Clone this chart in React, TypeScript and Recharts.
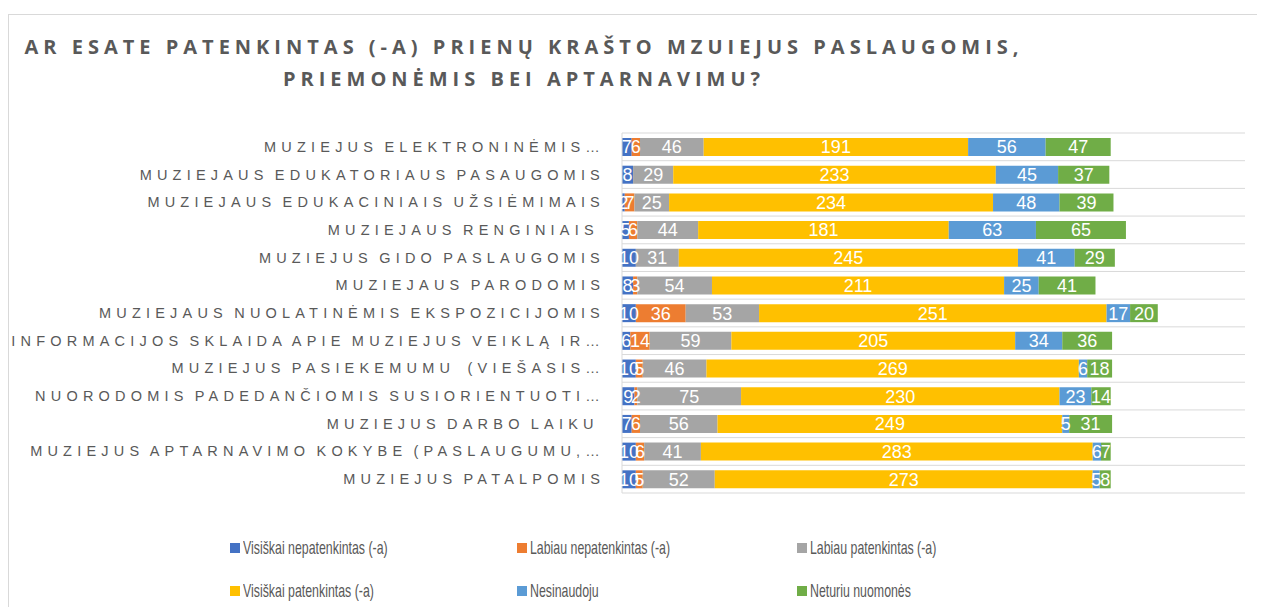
import React from "react";
import {
  BarChart,
  Bar,
  XAxis,
  YAxis,
  CartesianGrid,
  LabelList,
} from "recharts";

const categories = [
  "MUZIEJUS ELEKTRONINĖMIS…",
  "MUZIEJAUS EDUKATORIAUS PASAUGOMIS",
  "MUZIEJAUS EDUKACINIAIS UŽSIĖMIMAIS",
  "MUZIEJAUS RENGINIAIS ",
  "MUZIEJUS GIDO PASLAUGOMIS",
  "MUZIEJAUS PARODOMIS",
  "MUZIEJAUS NUOLATINĖMIS EKSPOZICIJOMIS",
  "INFORMACIJOS SKLAIDA APIE MUZIEJUS VEIKLĄ IR…",
  "MUZIEJUS PASIEKEMUMU  (VIEŠASIS…",
  "NUORODOMIS PADEDANČIOMIS SUSIORIENTUOTI…",
  "MUZIEJUS DARBO LAIKU ",
  "MUZIEJUS APTARNAVIMO KOKYBE (PASLAUGUMU,…",
  "MUZIEJUS PATALPOMIS",
];

const visiskaiNepatenkintas = [7, 8, 2, 5, 10, 8, 10, 6, 10, 9, 7, 10, 10];
const labiauNepatenkintas = [6, 0, 7, 6, 0, 3, 36, 14, 5, 2, 6, 6, 5];
const labiauPatenkintas = [46, 29, 25, 44, 31, 54, 53, 59, 46, 75, 56, 41, 52];
const visiskaiPatenkintas = [191, 233, 234, 181, 245, 211, 251, 205, 269, 230, 249, 283, 273];
const nesinaudoju = [56, 45, 48, 63, 41, 25, 17, 34, 6, 23, 5, 6, 5];
const neturiuNuomones = [47, 37, 39, 65, 29, 41, 20, 36, 18, 14, 31, 7, 8];

const series = [
  { key: "vn", name: "Visiškai nepatenkintas (-a)", color: "#4472C4", values: visiskaiNepatenkintas },
  { key: "ln", name: "Labiau nepatenkintas (-a)", color: "#ED7D31", values: labiauNepatenkintas },
  { key: "lp", name: "Labiau patenkintas (-a)", color: "#A5A5A5", values: labiauPatenkintas },
  { key: "vp", name: "Visiškai patenkintas (-a)", color: "#FFC000", values: visiskaiPatenkintas },
  { key: "ne", name: "Nesinaudoju", color: "#5B9BD5", values: nesinaudoju },
  { key: "nn", name: "Neturiu nuomonės", color: "#70AD47", values: neturiuNuomones },
];

const data = categories.map((name, i) => {
  const row: Record<string, any> = { name };
  series.forEach((s) => (row[s.key] = s.values[i]));
  return row;
});

const sans = "'Liberation Sans', sans-serif";

const CategoryTick = (props: any) => {
  const { x, y, payload } = props;
  return (
    <text
      x={x - 9}
      y={y}
      dy={5}
      textAnchor="end"
      fill="#595959"
      fontSize={14.5}
      fontFamily={sans}
      style={{ letterSpacing: "5.2px", wordSpacing: "-3px", whiteSpace: "pre" }}
    >
      {payload.value}
    </text>
  );
};

const rowLines = ({ offset }: any) => {
  const out: number[] = [];
  for (let i = 0; i <= categories.length; i++) {
    out.push(offset.top + (i * offset.height) / categories.length);
  }
  return out;
};

const App = () => {
  return (
    <div
      style={{
        position: "relative",
        marginTop: 6,
        width: 1257,
        height: 593,
        boxSizing: "border-box",
        borderTop: "1px solid #d9d9d9",
        borderLeft: "1px solid #d9d9d9",
        background: "#fff",
      }}
    >
      <div
        style={{
          position: "absolute",
          left: 0,
          width: 1030,
          top: 16,
          textAlign: "center",
          color: "#595959",
          fontFamily: "'Open Sans', sans-serif",
          fontWeight: 700,
          fontSize: 20,
          letterSpacing: "5px",
          lineHeight: "32px",
          whiteSpace: "nowrap",
        }}
      >
        AR ESATE PATENKINTAS (-A) PRIENŲ KRAŠTO MZUIEJUS PASLAUGOMIS,
        <br />
        PRIEMONĖMIS BEI APTARNAVIMU?
      </div>
      <BarChart
        width={1256}
        height={592}
        data={data}
        layout="vertical"
        margin={{ top: 118, right: 20, left: 0, bottom: 114 }}
        barSize={18}
      >
        <CartesianGrid
          vertical={false}
          stroke="#d9d9d9"
          horizontalCoordinatesGenerator={rowLines}
        />
        <XAxis type="number" domain={[0, 450]} hide />
        <YAxis
          type="category"
          dataKey="name"
          width={613}
          axisLine={{ stroke: "#d9d9d9" }}
          tickLine={false}
          tick={<CategoryTick />}
          interval={0}
        />
        {series.map((s) => (
          <Bar
            key={s.key}
            dataKey={s.key}
            name={s.name}
            stackId="a"
            fill={s.color}
            isAnimationActive={false}
          >
            <LabelList
              dataKey={s.key}
              position="center"
              fill="#ffffff"
              fontSize={18}
              fontFamily={sans}
            />
          </Bar>
        ))}
      </BarChart>
      {series.map((s, i) => (
        <div
          key={s.key}
          style={{
            position: "absolute",
            left: [221, 508, 788][i % 3],
            top: i < 3 ? 522 : 565,
            display: "flex",
            alignItems: "center",
            fontFamily: sans,
            fontSize: 19,
            color: "#595959",
            whiteSpace: "nowrap",
          }}
        >
          <span
            style={{
              display: "inline-block",
              width: 10,
              height: 10,
              background: s.color,
              marginRight: 3,
            }}
          />
          <span
            style={{
              display: "inline-block",
              transform: "scaleX(0.65)",
              transformOrigin: "left center",
            }}
          >
            {s.name}
          </span>
        </div>
      ))}
    </div>
  );
};

export default App;
